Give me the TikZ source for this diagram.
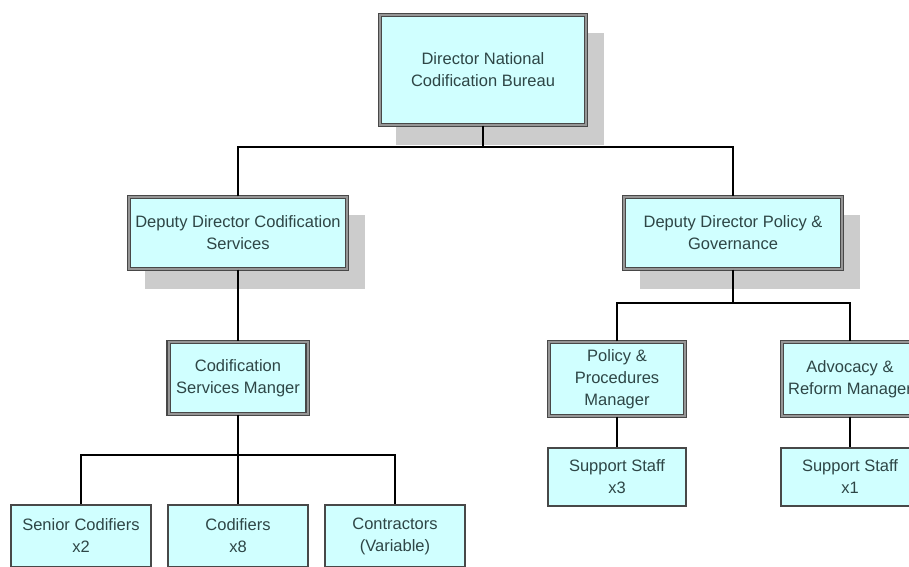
\documentclass[tikz,border=0pt]{standalone}
\usepackage{fontspec}
\setmainfont{Liberation Sans}
\usetikzlibrary{backgrounds}

\definecolor{boxfill}{RGB}{208,255,255}
\definecolor{dropgray}{RGB}{204,204,204}
\definecolor{ink}{RGB}{46,70,70}
\definecolor{rimdark}{RGB}{72,72,72}
\definecolor{rimmid}{RGB}{150,150,150}

\begin{document}
\begin{tikzpicture}[x=1pt,y=-1pt,
  unit/.style={rectangle, fill=boxfill, text=ink, align=center, inner sep=0pt,
               font=\fontsize{16.5}{22}\selectfont},
  framed/.style={unit, draw=rimdark, line width=1.1pt, double=rimmid, double distance=2pt},
  plainbox/.style={unit, draw=rimdark, line width=1.3pt},
  link/.style={draw=black, line width=1.8pt}]

\clip (0,0) rectangle (909,566);

% management tiers
\node[framed, minimum width=206, minimum height=110] (top) at (483,70)
  {Director National\\Codification Bureau};
\node[framed, minimum width=218, minimum height=72] (dc) at (238,233)
  {Deputy Director Codification\\Services};
\node[framed, minimum width=218, minimum height=72] (dp) at (733,233)
  {Deputy Director Policy \&\\Governance};
\node[framed, minimum width=139, minimum height=72] (csm) at (238,378)
  {Codification\\Services Manger};
\node[framed, minimum width=136, minimum height=74] (ppm) at (617,379)
  {Policy \&\\Procedures\\Manager};
\node[framed, minimum width=136, minimum height=74] (arm) at (850,379)
  {Advocacy \&\\Reform Manager};

% staff level
\node[plainbox, minimum width=140, minimum height=62] (sc) at (81,536)
  {Senior Codifiers\\x2};
\node[plainbox, minimum width=140, minimum height=62] (cod) at (238,536)
  {Codifiers\\x8};
\node[plainbox, minimum width=140, minimum height=62] (con) at (395,536)
  {Contractors\\(Variable)};
\node[plainbox, minimum width=138, minimum height=58] (ss3) at (617,477)
  {Support Staff\\x3};
\node[plainbox, minimum width=138, minimum height=58] (ss1) at (850,477)
  {Support Staff\\x1};

% white page and drop shadows behind the upper boxes
\begin{scope}[on background layer]
  \fill[white] (0,0) rectangle (909,566);
  \foreach \n in {top,dc,dp}
    \fill[dropgray] ([shift={(17,19)}]\n.south west) rectangle ([shift={(17,19)}]\n.north east);
\end{scope}

% reporting lines
\coordinate (bar1) at (483,147);
\coordinate (bar2) at (238,455);
\coordinate (bar3) at (733,303);

\draw[link] (top.south) -- (bar1);
\draw[link] (dc.north) |- (bar1) -| (dp.north);
\draw[link] (dc.south) -- (csm.north);
\draw[link] (csm.south) -- (cod.north);
\draw[link] (sc.north) |- (bar2) -| (con.north);
\draw[link] (dp.south) -- (bar3);
\draw[link] (ppm.north) |- (bar3) -| (arm.north);
\draw[link] (ppm.south) -- (ss3.north);
\draw[link] (arm.south) -- (ss1.north);
\end{tikzpicture}
\end{document}
